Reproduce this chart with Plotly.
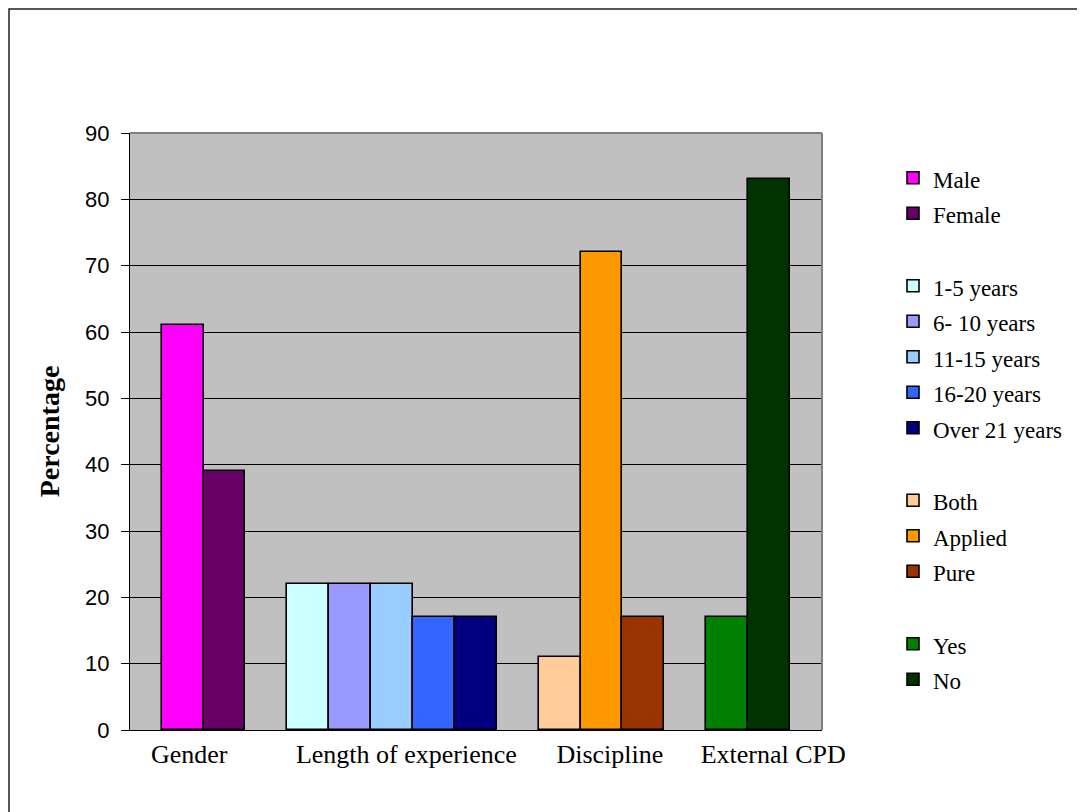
import plotly.graph_objects as go

# ---- data ----
groups = ["Gender", "Length of experience", "Discipline", "External CPD"]
gender_series = ["Male", "Female"]
gender_values = [61, 39]
experience_series = ["1-5 years", "6- 10 years", "11-15 years", "16-20 years", "Over 21 years"]
experience_values = [22, 22, 22, 17, 17]
discipline_series = ["Both", "Applied", "Pure"]
discipline_values = [11, 72, 17]
cpd_series = ["Yes", "No"]
cpd_values = [17, 83]

# ---- styles ----
gender_colors = ["#FF00FF", "#660066"]
experience_colors = ["#CCFFFF", "#9999FF", "#99CCFF", "#3366FF", "#000080"]
discipline_colors = ["#FFCC99", "#FF9900", "#993300"]
cpd_colors = ["#008000", "#003300"]

series_sets = [
    (gender_series, gender_values, gender_colors),
    (experience_series, experience_values, experience_colors),
    (discipline_series, discipline_values, discipline_colors),
    (cpd_series, cpd_values, cpd_colors),
]

fig = go.Figure()
slot = 0
for gi, (names, vals, cols) in enumerate(series_sets):
    for n, v, c in zip(names, vals, cols):
        fig.add_trace(go.Bar(
            x=[slot + 0.5], y=[v], width=[1],
            name=f'<span style="font-size:23px">{n}</span>',
            legendgroup=groups[gi],
            marker=dict(color=c, line=dict(color="black", width=1.6)),
            hovertemplate=f"{groups[gi]} – {n}: %{{y}}<extra></extra>",
        ))
        slot += 1
    slot += 1  # gap between groups
n_slots = slot - 1

label_pos = [0.656, 5.84, 10.70, 14.60]

# page body has an 8px margin; figure is sized to fit the window
OFF = 8
FW, FH = 1085 - OFF, 812 - OFF
W, H = 692, 597
L, T = 130 - OFF, 133 - OFF

def px_x(p):  # page pixel -> paper x
    return (p - OFF - L) / W

def px_y(p):  # page pixel -> paper y
    return (T + H - (p - OFF)) / H

fig.update_layout(
    width=FW, height=FH,
    margin=dict(l=L, r=FW - L - W, t=T, b=FH - T - H),
    paper_bgcolor="white",
    plot_bgcolor="#C0C0C0",
    barmode="overlay",
    bargap=0,
    showlegend=True,
    legend=dict(
        x=px_x(893), y=px_y(155), xanchor="left", yanchor="top",
        font=dict(family="Liberation Serif", size=25, color="black"),
        traceorder="grouped", tracegroupgap=37,
        bgcolor="rgba(0,0,0,0)", borderwidth=0,
    ),
    xaxis=dict(
        range=[-0.757, n_slots + 0.764],
        tickvals=label_pos, ticktext=groups,
        tickfont=dict(family="Liberation Serif", size=26, color="black"),
        showgrid=False, zeroline=False, ticks="",
        showline=True, linecolor="black", linewidth=1,
        ticklabelstandoff=1,
    ),
    yaxis=dict(
        range=[0, 90], dtick=10, tick0=0,
        tickfont=dict(family="Liberation Sans", size=22, color="black"),
        showgrid=True, gridcolor="black", gridwidth=1,
        zeroline=False, ticks="outside", ticklen=8, tickcolor="black",
        showline=True, linecolor="black", linewidth=1,
        ticklabelstandoff=7,
        title=dict(text="<b>Percentage</b>", standoff=17,
                   font=dict(family="Liberation Serif", size=28, color="black")),
    ),
    shapes=[
        dict(type="line", xref="paper", yref="paper", x0=0, x1=1, y0=1, y1=1,
             line=dict(color="#808080", width=2)),
        dict(type="line", xref="paper", yref="paper", x0=1, x1=1, y0=0, y1=1,
             line=dict(color="#808080", width=2)),
        dict(type="rect", xref="paper", yref="paper",
             x0=px_x(9), x1=px_x(1100), y0=px_y(830), y1=px_y(9),
             line=dict(color="#222222", width=1.5)),
    ],
)

fig.write_html("out.html")
